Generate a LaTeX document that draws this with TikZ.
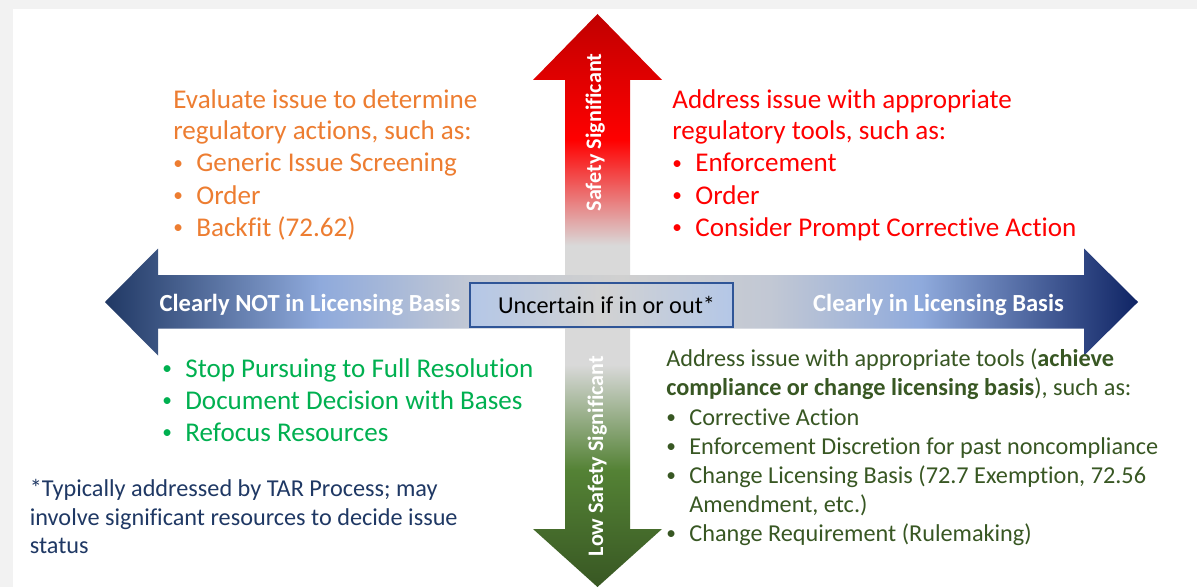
\documentclass[tikz,border=0pt]{standalone}
\usepackage{fontspec}
\setmainfont{Carlito}[Ligatures=NoCommon]
\usepackage{xcolor}
\usepackage{tikz}
\usetikzlibrary{positioning,calc,shadings}

% colours of the slide
\definecolor{evalorange}{HTML}{ED7D31}
\definecolor{toolred}{HTML}{FF0000}
\definecolor{stopgreen}{HTML}{00B050}
\definecolor{notenavy}{HTML}{1F3864}
\definecolor{complygreen}{HTML}{385723}
\definecolor{boxblue}{HTML}{B4C7E7}
\definecolor{boxgray}{HTML}{D2D2D2}
\definecolor{boxedge}{HTML}{2F5597}
\definecolor{bggray}{HTML}{F2F2F2}
% arrow colours
\definecolor{hidark}{HTML}{C00000}
\definecolor{hired}{HTML}{FF0000}
\definecolor{midgray}{HTML}{D9D9D9}
\definecolor{lowgreen}{HTML}{548235}
\definecolor{lowdark}{HTML}{385723}
\definecolor{navyleft}{HTML}{203864}
\definecolor{navyright}{HTML}{0F2464}
\definecolor{lightnavy}{HTML}{8FAADC}
\definecolor{graynavy}{HTML}{C2C8D4}
\definecolor{centgray}{HTML}{D0D0D0}

% vertical: green at bottom, gray in the middle, red on top
\pgfdeclareverticalshading{safetyshade}{100bp}{color(0bp)=(lowdark); color(25bp)=(lowdark);
  color(35.2bp)=(lowgreen); color(44.4bp)=(midgray); color(54.8bp)=(midgray);
  color(64bp)=(hired); color(75bp)=(hidark); color(100bp)=(hidark)}
% horizontal: navy at both ends, gray in the middle
\pgfdeclarehorizontalshading{basisshade}{100bp}{color(0bp)=(navyleft); color(25bp)=(navyleft);
  color(35.4bp)=(lightnavy); color(42.7bp)=(graynavy); color(49.9bp)=(centgray);
  color(57.2bp)=(graynavy); color(64.5bp)=(lightnavy); color(75bp)=(navyright); color(100bp)=(navyright)}

% small bullet, then the text 0.46cm further on
\newcommand{\bul}{\makebox[0.46cm][l]{\raisebox{0.08em}{\fontsize{11}{11}\selectfont\textbullet}}}

\tikzset{
  bigtxt/.style={anchor=base west, inner sep=0pt, font=\fontsize{15.4}{18}\selectfont},
  smalltxt/.style={anchor=base west, inner sep=0pt, font=\fontsize{13.8}{16}\selectfont},
  arrowlabel/.style={anchor=base, inner sep=0pt, text=white, font=\bfseries\fontsize{14}{16}\selectfont},
  vlabel/.style={anchor=base, inner sep=0pt, rotate=90, text=white, font=\bfseries\fontsize{12.6}{14}\selectfont},
  uncertbox/.style={draw=boxedge, line width=0.6pt, left color=boxblue, right color=boxblue, middle color=boxgray,
    minimum width=5.26cm, minimum height=0.88cm, inner sep=0pt, font=\fontsize{13.8}{16}\selectfont}
}

\begin{document}
\begin{tikzpicture}
    \useasboundingbox (0,0) rectangle (23.94,11.74);
    % slide background
    \fill[bggray] (0,0) rectangle (23.94,11.74);
    \fill[white] (0.26,0) rectangle (23.94,11.56);

    % Safety axis (up = significant, down = low)
    \shade[shading=safetyshade] (10.66,10.14) -- (11.95,11.46) -- (13.24,10.14) -- (12.60,10.14)
        -- (12.60,1.16) -- (13.24,1.16) -- (11.95,0) -- (10.66,1.16) -- (11.30,1.16) -- (11.30,10.14) -- cycle;

    % Licensing basis axis (left = not in, right = in)
    \shade[shading=basisshade] (2.10,5.70) -- (3.16,6.77) -- (3.16,6.24) -- (21.68,6.24) -- (21.68,6.77)
        -- (22.76,5.70) -- (21.68,4.63) -- (21.68,5.17) -- (3.16,5.17) -- (3.16,4.63) -- cycle;

    % axis labels
    \node[vlabel] (sslabel) at (12.02,9.09) {Safety Significant};
    \node[vlabel] (lowlabel) at (12.06,2.62) {Low Safety Significant};
    \node[arrowlabel] (notlabel) at (6.20,5.52) {Clearly NOT in Licensing Basis};
    \node[arrowlabel] (inlabel) at (18.77,5.52) {Clearly in Licensing Basis};
    \node[uncertbox] (uncert) at (12.03,5.64) {\hspace{0.2cm}Uncertain if in or out*};

    % upper left quadrant
    \foreach \ln [count=\i] in {Evaluate issue to determine, {regulatory actions, such as:},
        \bul Generic Issue Screening, \bul Order, \bul Backfit (72.62)}
        \node[bigtxt, text=evalorange] (eval\i) at (3.46,{10.22-0.64*\i}) {\ln};

    % upper right quadrant
    \foreach \ln [count=\i] in {Address issue with appropriate, {regulatory tools, such as:},
        \bul Enforcement, \bul Order, \bul Consider Prompt Corrective Action}
        \node[bigtxt, text=toolred] (tool\i) at (13.44,{10.22-0.64*\i}) {\ln};

    % lower left quadrant
    \foreach \ln [count=\i] in {\bul Stop Pursuing to Full Resolution, \bul Document Decision with Bases,
        \bul Refocus Resources}
        \node[bigtxt, text=stopgreen] (stop\i) at (3.24,{4.84-0.64*\i}) {\ln};

    % footnote for the box
    \foreach \ln [count=\i] in {*Typically addressed by TAR Process; may,
        involve significant resources to decide issue, status}
        \node[smalltxt, text=notenavy] (note\i) at (0.59,{2.372-0.566*\i}) {\ln};

    % lower right quadrant
    \foreach \ln [count=\i] in {Address issue with appropriate tools (\textbf{achieve},
        {\textbf{compliance or change licensing basis}), such as:},
        \bul Corrective Action, \bul Enforcement Discretion for past noncompliance,
        {\bul Change Licensing Basis (72.7 Exemption, 72.56},
        {\makebox[0.46cm]{}Amendment, etc.)}, \bul Change Requirement (Rulemaking)}
        \node[smalltxt, text=complygreen] (comply\i) at (13.32,{4.99-0.584*\i}) {\ln};
\end{tikzpicture}
\end{document}
